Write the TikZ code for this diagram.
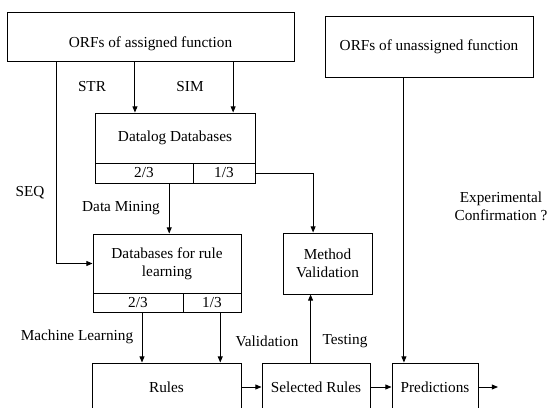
\documentclass[tikz,border=0pt]{standalone}
\usepackage{fontspec}
\setmainfont{Liberation Serif}
\usetikzlibrary{arrows.meta,calc}
\newcommand{\pxu}{0.655pt}
\begin{document}
\begin{tikzpicture}[x=0.655pt,y=-0.655pt,line width=0.6pt,
        box/.style={draw,inner sep=0pt,align=center},
        arr/.style={-{Triangle[length=4pt,width=3.2pt]}},
        lbl/.style={inner sep=0pt,align=center}]
        \useasboundingbox (0,0) rectangle (549,407);

        % Input ORFs
        \node (orfA) at (150.5,36.5) [box,minimum width=287*\pxu,minimum height=49*\pxu,text height=17pt,text depth=2pt] {ORFs of assigned function};
        \node (orfU) at (429,46.5) [box,minimum width=208*\pxu,minimum height=61*\pxu] {ORFs of unassigned function};

        % Datalog databases, split 2/3 - 1/3
        \node (dl) at (175,138) [box,minimum width=160*\pxu,minimum height=50*\pxu] {Datalog Databases};
        \node (dl23) at (144,173) [box,minimum width=98*\pxu,minimum height=20*\pxu] {2/3};
        \node (dl13) at (224,173) [box,minimum width=62*\pxu,minimum height=20*\pxu] {1/3};

        % Databases for rule learning, split 2/3 - 1/3
        \node (rdb) at (167,263.5) [box,minimum width=148*\pxu,minimum height=59*\pxu] {Databases for rule\\learning};
        \node (rdb23) at (138,302.5) [box,minimum width=90*\pxu,minimum height=19*\pxu] {2/3};
        \node (rdb13) at (212,302.5) [box,minimum width=58*\pxu,minimum height=19*\pxu] {1/3};

        \node (mv) at (327.5,263.5) [box,minimum width=89*\pxu,minimum height=61*\pxu] {Method\\Validation};

        % Bottom row
        \node (rules) at (166.5,387) [box,minimum width=149*\pxu,minimum height=48*\pxu] {Rules};
        \node (sel) at (316,387) [box,minimum width=108*\pxu,minimum height=48*\pxu] {Selected Rules};
        \node (pred) at (435,387) [box,minimum width=86*\pxu,minimum height=48*\pxu] {Predictions};
        \coordinate (out) at (498,387);

        % Labels
        \node (lstr) at (92,87) [lbl] {STR};
        \node (lsim) at (190,87) [lbl] {SIM};
        \node (lseq) at (30,193) [lbl] {SEQ};
        \node (lmine) at (121,208) [lbl] {Data Mining};
        \node (lml) at (77,337) [lbl] {Machine Learning};
        \node (lval) at (267,341) [lbl] {Validation};
        \node (ltest) at (345,341) [lbl] {Testing};
        \node (lexp) at (501,206) [lbl] {Experimental\\Confirmation ?};

        % Arrows
        \draw[arr] ($(orfA.south west)!0.446!(orfA.south east)$) coordinate (str) -- (str |- dl.north);
        \draw[arr] ($(orfA.south west)!0.787!(orfA.south east)$) coordinate (sim) -- (sim |- dl.north);
        \draw[arr] ($(orfA.south west)!0.174!(orfA.south east)$) |- (rdb.west);
        \draw[arr] ($(dl23.south west)!0.755!(dl23.south east)$) coordinate (dm) -- (dm |- rdb.north);
        \draw[arr] (dl13.east) -| ($(mv.north west)!0.34!(mv.north east)$);
        \draw[arr] ($(rdb23.south west)!0.544!(rdb23.south east)$) coordinate (ml1) -- (ml1 |- rules.north);
        \draw[arr] ($(rdb13.south west)!0.64!(rdb13.south east)$) coordinate (ml2) -- (ml2 |- rules.north);
        \draw[arr] (rules) -- (sel);
        \draw[arr] (sel) -- (pred);
        \draw[arr] (pred) -- (out);
        \draw[arr] ($(sel.north west)!0.45!(sel.north east)$) coordinate (tst) -- (tst |- mv.south);
        \draw[arr] ($(orfU.south west)!0.38!(orfU.south east)$) coordinate (unk) -- (unk |- pred.north);
\end{tikzpicture}
\end{document}
